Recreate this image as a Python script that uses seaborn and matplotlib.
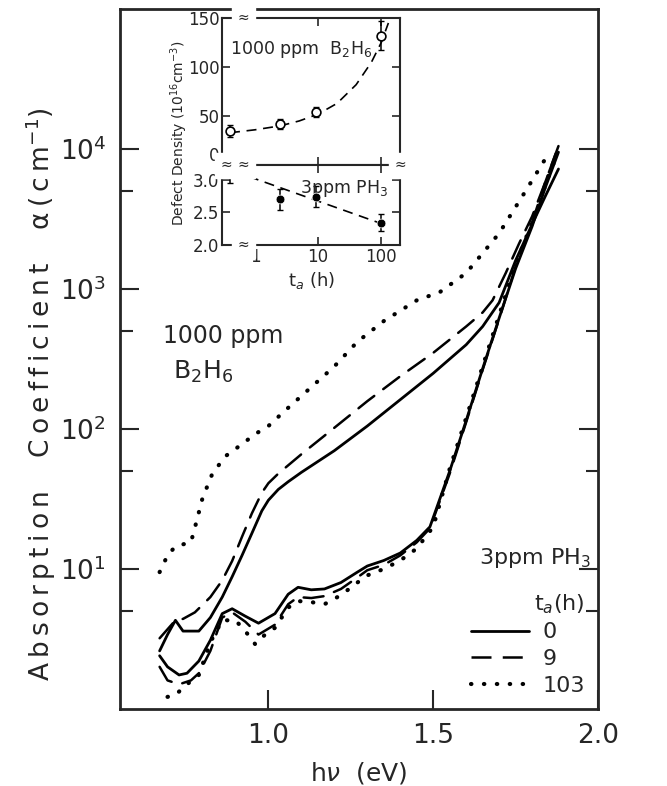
#!/usr/bin/env python3

import numpy as np
import pandas as pd
import matplotlib
matplotlib.use('Agg')
import matplotlib.pyplot as plt
import seaborn as sns
from matplotlib.lines import Line2D

# ---- main panel: absorption spectra (hv in eV, alpha in cm^-1) ----
b2h6_0h_ev = [0.67, 0.694, 0.718, 0.741, 0.789, 0.824, 0.86, 0.89, 0.92, 0.95,
              0.98, 1.00, 1.03, 1.06, 1.10, 1.20, 1.30, 1.40, 1.50, 1.60, 1.65,
              1.70, 1.75, 1.80, 1.84, 1.88]
b2h6_0h_a = [2.6, 3.4, 4.3, 3.6, 3.6, 4.5, 6.3, 8.8, 12.5, 18,
             26, 31, 37, 42, 49, 70, 105, 162, 250, 400, 540,
             800, 1600, 2900, 4600, 7200]

b2h6_9h_ev = [0.67, 0.718, 0.741, 0.777, 0.824, 0.86, 0.89, 0.92, 0.95, 0.98,
              1.00, 1.03, 1.06, 1.10, 1.20, 1.30, 1.40, 1.50, 1.60, 1.65, 1.68,
              1.72, 1.76, 1.80, 1.84, 1.88]
b2h6_9h_a = [3.2, 4.3, 4.4, 4.9, 6.3, 8.3, 11.4, 17, 25, 35,
             41, 48, 55, 66, 102, 158, 238, 350, 540, 680, 830,
             1300, 2100, 3300, 5800, 10500]

b2h6_103h_ev = [0.67, 0.694, 0.718, 0.741, 0.765, 0.78, 0.80, 0.83, 0.87, 0.92,
                0.96, 1.00, 1.05, 1.10, 1.20, 1.27, 1.35, 1.45, 1.52, 1.60, 1.70,
                1.78, 1.84]
b2h6_103h_a = [9.5, 12.5, 14.5, 15, 15.5, 21, 32, 48, 64, 78,
               92, 105, 135, 172, 280, 420, 590, 830, 950, 1300, 2500,
               5000, 8500]

ph3_0h_ev = [0.67, 0.694, 0.729, 0.753, 0.789, 0.824, 0.86, 0.89, 0.93, 0.97,
             1.02, 1.06, 1.09, 1.13, 1.17, 1.22, 1.27, 1.30, 1.35, 1.40, 1.45,
             1.49, 1.55, 1.60, 1.65, 1.70, 1.75, 1.80, 1.84, 1.88]
ph3_0h_a = [2.4, 2.0, 1.75, 1.8, 2.2, 3.1, 4.8, 5.2, 4.6, 4.1,
            4.8, 6.6, 7.4, 7.1, 7.2, 8.0, 9.5, 10.5, 11.5, 13, 16,
            20, 50, 115, 270, 620, 1400, 2800, 5300, 9500]

ph3_9h_ev = [0.67, 0.694, 0.729, 0.765, 0.789, 0.824, 0.86, 0.89, 0.93, 0.97,
             1.02, 1.06, 1.09, 1.13, 1.17, 1.22, 1.27, 1.30, 1.35, 1.40, 1.45,
             1.49, 1.55, 1.60, 1.65, 1.70, 1.75, 1.80, 1.84, 1.88]
ph3_9h_a = [2.0, 1.6, 1.5, 1.6, 1.8, 2.6, 4.5, 4.9, 4.2, 3.4,
            4.0, 5.6, 6.3, 6.2, 6.4, 7.2, 8.7, 9.8, 10.7, 12.5, 15.5,
            19.5, 48, 112, 265, 610, 1450, 3000, 5800, 10500]

ph3_103h_ev = [0.694, 0.718, 0.753, 0.789, 0.824, 0.86, 0.90, 0.93, 0.96, 0.99,
               1.02, 1.06, 1.09, 1.13, 1.17, 1.22, 1.27, 1.30, 1.35, 1.40, 1.45,
               1.50, 1.55, 1.60, 1.65, 1.70, 1.75, 1.80, 1.84, 1.87]
ph3_103h_a = [1.22, 1.26, 1.5, 1.75, 3.0, 4.3, 4.3, 3.6, 2.9, 3.4,
              3.8, 5.3, 5.9, 5.8, 5.6, 6.5, 8.0, 9.0, 10, 11.5, 14,
              20, 52, 120, 280, 650, 1500, 3000, 5500, 8500]

# ---- inset: defect density vs anneal time ----
t_pts = [0.4, 2.5, 9.2, 100]
b2h6_nd = [35, 42, 54, 132]
b2h6_err = [6, 5, 5, 15]
b2h6_fit_t = [0.4, 1, 2.5, 5, 10, 20, 40, 70, 100, 130]
b2h6_fit_nd = [33, 36, 40, 45, 52, 63, 82, 105, 125, 145]

ph3_nd = [3.10, 2.70, 2.74, 2.34]
ph3_err = [0.15, 0.16, 0.16, 0.13]
ph3_fit_t = [0.45, 100]
ph3_fit_nd = [3.13, 2.33]

solid = '-'
dashed = (0, (8, 4.5))
dotted = (0, (0.1, 3))


def frame(ev, a):
    return pd.DataFrame({'hv': ev, 'alpha': a})


def spaced(word):
    return '\u2009'.join(word)


sns.set_style('ticks')
plt.rcParams['font.family'] = ['DejaVu Sans']
plt.rcParams['mathtext.fontset'] = 'dejavusans'

fig = plt.figure(figsize=(6.67, 7.86), dpi=100)
ax = fig.add_axes([0.18, 0.098, 0.7166, 0.8905])
ax.set_yscale('log')

series = [
    (b2h6_0h_ev, b2h6_0h_a, solid, 2.0),
    (b2h6_9h_ev, b2h6_9h_a, dashed, 1.8),
    (b2h6_103h_ev, b2h6_103h_a, dotted, 3.0),
    (ph3_0h_ev, ph3_0h_a, solid, 2.0),
    (ph3_9h_ev, ph3_9h_a, dashed, 1.8),
    (ph3_103h_ev, ph3_103h_a, dotted, 3.0),
]
for ev, a, ls, lw in series:
    sns.lineplot(x='hv', y='alpha', data=frame(ev, a), color='black',
                 linestyle=ls, linewidth=lw, dash_capstyle='round',
                 sort=False, ax=ax)

ax.set_xlim(0.55, 2.0)
ax.set_ylim(1, 1e5)
ax.set_xticks([1.0, 1.5, 2.0])
ax.set_xticklabels(['1.0', '1.5', '2.0'])
ax.set_yticks([10, 100, 1000, 10000])
ax.set_yticklabels(['$10^1$', '$10^2$', '$10^3$', '$10^4$'])
ax.set_yticks([5, 50, 500, 5000], minor=True)
ax.yaxis.set_minor_formatter(matplotlib.ticker.NullFormatter())
ax.tick_params(which='both', direction='in', right=True, width=1.5,
               labelsize=19, pad=10)
ax.tick_params(which='major', length=14)
ax.tick_params(which='minor', length=9)
ax.tick_params(axis='x', which='minor', bottom=False, top=False)
for s in ax.spines.values():
    s.set_linewidth(2)
ax.set_xlabel(r'h$\nu$  (eV)', fontsize=18, labelpad=8)
ylab = (spaced('Absorption') + '    ' + spaced('Coefficient') + '    '
        + '\u03b1\u2009(\u2009c\u2009m$^{-1}$)')
ax.set_ylabel(ylab, fontsize=19)
ax.yaxis.set_label_coords(-0.13, 0.45)

ax.text(0.68, 460, '1000 ppm', fontsize=17, ha='left', va='center')
ax.text(0.71, 255, 'B$_2$H$_6$', fontsize=18, ha='left', va='center')
ax.text(1.81, 12, '3ppm PH$_3$', fontsize=16, ha='center', va='center')

handles = [Line2D([], [], color='black', linestyle=solid, linewidth=2),
           Line2D([], [], color='black', linestyle=dashed, linewidth=1.8),
           Line2D([], [], color='black', linestyle=dotted, linewidth=3,
                  dash_capstyle='round')]
leg = ax.legend(handles, ['0', '9', '103'], title='t$_a$(h)', loc='lower right',
                frameon=False, fontsize=16, title_fontsize=16,
                handlelength=2.6, labelspacing=0.3, borderaxespad=0.2,
                handletextpad=0.6)
leg._legend_box.align = 'right'

# ---- inset ----
ax_up = fig.add_axes([0.333, 0.790, 0.267, 0.187])
ax_lo = fig.add_axes([0.333, 0.688, 0.267, 0.102], sharex=ax_up)
for a in (ax_up, ax_lo):
    a.set_xscale('log')
    for s in a.spines.values():
        s.set_linewidth(1.5)
    a.tick_params(which='major', direction='in', top=True, right=True,
                  length=6, width=1.2, labelsize=12, pad=2)
    a.tick_params(which='minor', top=False, bottom=False)

sns.lineplot(x=b2h6_fit_t, y=b2h6_fit_nd, color='black', linestyle=(0, (6, 4)),
             linewidth=1.2, ax=ax_up)
ax_up.errorbar(t_pts, b2h6_nd, yerr=b2h6_err, fmt='none', ecolor='black',
               elinewidth=1.1, capsize=2.5)
sns.scatterplot(x=t_pts, y=b2h6_nd, marker='o', facecolor='white',
                edgecolor='black', linewidth=1.2, s=40, ax=ax_up, zorder=5)
ax_up.set_ylim(0, 150)
ax_up.set_yticks([0, 50, 100, 150])
ax_up.tick_params(labelbottom=False)
ax_up.get_yticklabels()[0].set_va('bottom')
ax_up.text(0.4, 118, '1000 ppm  B$_2$H$_6$', fontsize=12.5, ha='left',
           va='center')

sns.lineplot(x=ph3_fit_t, y=ph3_fit_nd, color='black', linestyle=(0, (6, 4)),
             linewidth=1.2, ax=ax_lo)
ax_lo.errorbar(t_pts, ph3_nd, yerr=ph3_err, fmt='none', ecolor='black',
               elinewidth=1.1, capsize=2.5)
sns.scatterplot(x=t_pts, y=ph3_nd, marker='o', color='black', s=40,
                ax=ax_lo, zorder=5)
ax_lo.set_ylim(2.0, 3.22)
ax_lo.set_yticks([2.0, 2.5, 3.0])
ax_lo.set_yticklabels(['2.0', '2.5', '3.0'])
ax_lo.set_xlim(0.3, 200)
ax_lo.set_xticks([1, 10, 100])
ax_lo.set_xticklabels(['1', '10', '100'])
ax_lo.text(130, 2.87, '3ppm PH$_3$', fontsize=12.5, ha='right', va='center')
ax_lo.set_xlabel('t$_a$ (h)', fontsize=13, labelpad=3)

# broken-axis marks
for a, yy in ((ax_up, 1.0), (ax_lo, 0.0), (ax_lo, 1.0)):
    a.text(0.12, yy, '\u2248', transform=a.transAxes, ha='center',
           va='center', fontsize=10, backgroundcolor='white')
for xx in (0.025, 1.0):
    ax_lo.text(xx, 1.0, '\u2248', transform=ax_lo.transAxes, ha='center',
               va='center', fontsize=10, backgroundcolor='white', zorder=6,
               clip_on=False)

fig.text(0.268, 0.83, 'Defect Density (10$^{16}$cm$^{-3}$)', rotation=90,
         ha='center', va='center', fontsize=10)

fig.savefig('out.png', dpi=100)
